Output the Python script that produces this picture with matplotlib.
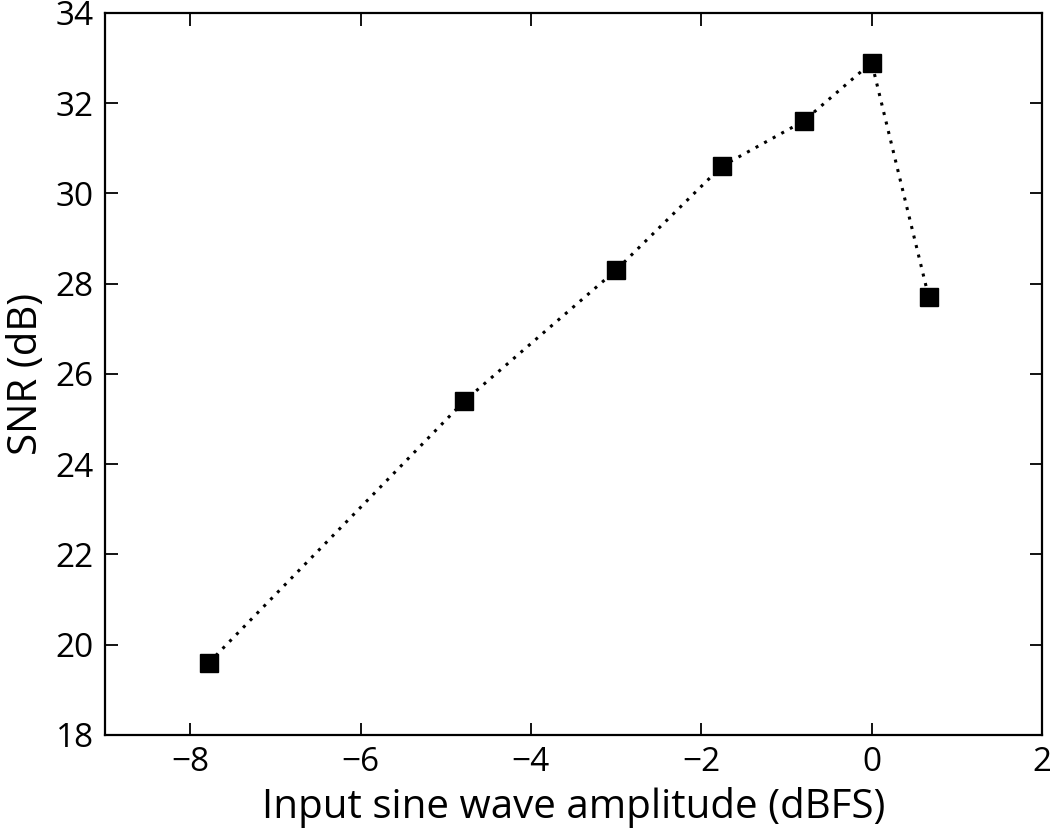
import matplotlib
matplotlib.use("Agg")
import matplotlib.pyplot as plt

plt.rcParams["font.family"] = ["Open Sans", "DejaVu Sans"]

# input amplitude (dBFS) vs SNR (dB)
amplitude = [-7.78, -4.78, -3.0, -1.76, -0.8, 0.0, 0.67]
snr = [19.6, 25.4, 28.3, 30.6, 31.6, 32.9, 27.7]

fig = plt.figure(figsize=(10.5, 8.36), dpi=100)
ax = fig.add_axes([0.1, 0.121, 0.8924, 0.8636])

ax.plot(amplitude, snr, linestyle=(0, (1, 2.2)), linewidth=2.2, color="black",
        marker="s", markersize=13, markerfacecolor="black", markeredgecolor="black")

ax.set_xlim(-9, 2)
ax.set_ylim(18, 34)
ax.set_xticks([-8, -6, -4, -2, 0, 2])
ax.set_xticklabels(["\u22128", "\u22126", "\u22124", "\u22122", "0", "2"])
ax.set_yticks(range(18, 35, 2))

ax.tick_params(direction="in", length=9, width=1.3, labelsize=24, pad=8,
               top=True, right=True)
for s in ax.spines.values():
    s.set_linewidth(1.6)

ax.set_xlabel("Input sine wave amplitude (dBFS)", fontsize=29, labelpad=6)
ax.set_ylabel("SNR (dB)", fontsize=29, labelpad=6)

fig.savefig("out.png", dpi=100)
